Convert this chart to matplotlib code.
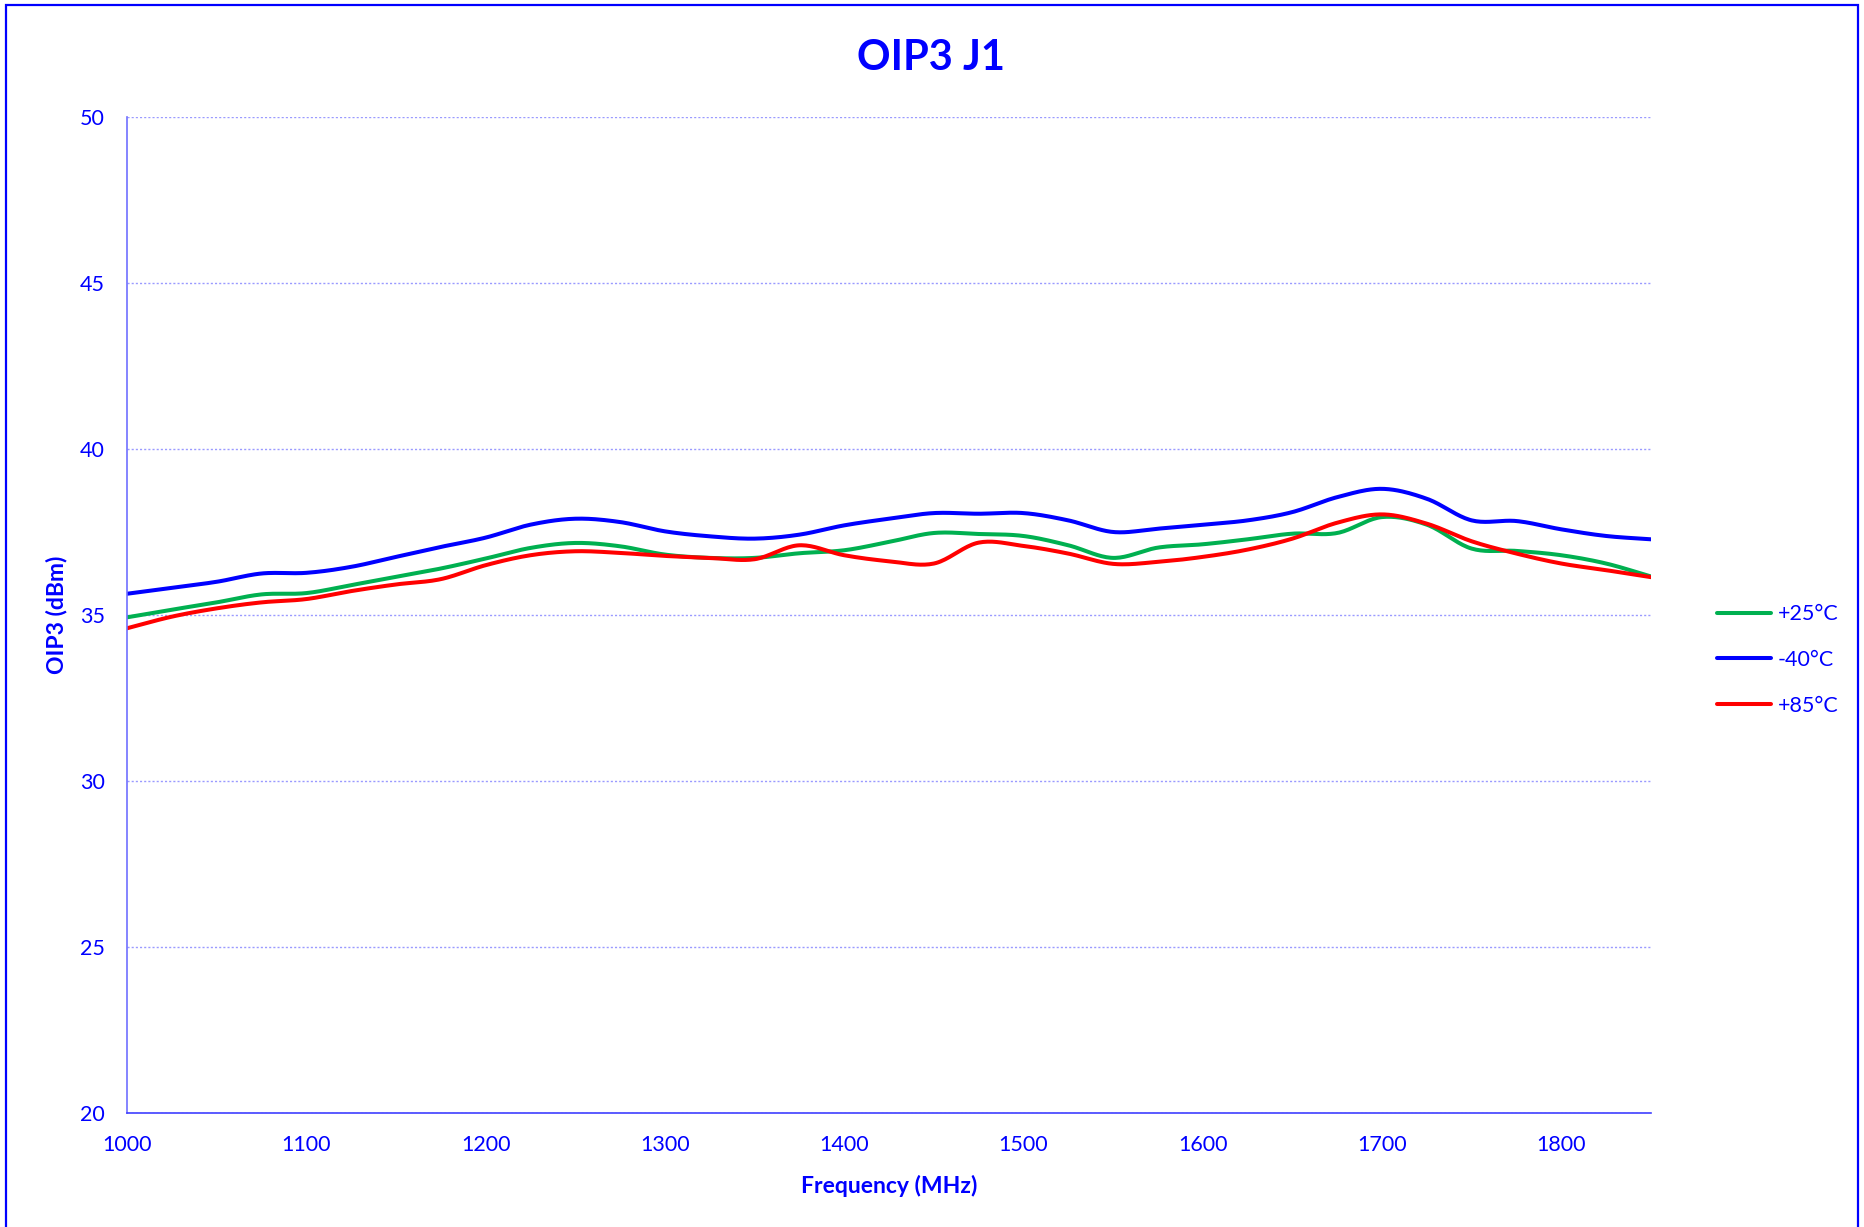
import numpy as np
import matplotlib
matplotlib.use('Agg')
from matplotlib import pyplot as plt
from matplotlib.patches import Rectangle

freq = [1000, 1025, 1050, 1075, 1100, 1125, 1150, 1175, 1200, 1225, 1250, 1275,
        1300, 1325, 1350, 1375, 1400, 1425, 1450, 1475, 1500, 1525, 1550, 1575,
        1600, 1625, 1650, 1675, 1700, 1725, 1750, 1775, 1800, 1825, 1850]

oip3_p25 = [34.93, 35.16, 35.38, 35.62, 35.66, 35.90, 36.15, 36.40, 36.70, 37.02, 37.17, 37.07,
            36.82, 36.72, 36.72, 36.86, 36.95, 37.20, 37.47, 37.44, 37.38, 37.10, 36.72, 37.03,
            37.13, 37.28, 37.45, 37.47, 37.95, 37.72, 37.00, 36.93, 36.80, 36.55, 36.16]

oip3_m40 = [35.64, 35.82, 36.00, 36.25, 36.27, 36.45, 36.75, 37.05, 37.33, 37.72, 37.90, 37.80,
            37.52, 37.37, 37.30, 37.42, 37.70, 37.90, 38.07, 38.05, 38.07, 37.85, 37.50, 37.60,
            37.72, 37.85, 38.10, 38.55, 38.80, 38.50, 37.85, 37.83, 37.58, 37.38, 37.28]

oip3_p85 = [34.60, 34.95, 35.20, 35.38, 35.48, 35.72, 35.92, 36.08, 36.50, 36.80, 36.92, 36.87,
            36.78, 36.72, 36.68, 37.10, 36.80, 36.62, 36.55, 37.18, 37.08, 36.85, 36.54, 36.60,
            36.75, 36.97, 37.30, 37.78, 38.03, 37.75, 37.22, 36.85, 36.55, 36.35, 36.14]

series = [('+25°C', oip3_p25, '#00B050'),
          ('-40°C', oip3_m40, '#0000FF'),
          ('+85°C', oip3_p85, '#FF0000')]

txt = '#0000FF'
plt.rcParams['font.family'] = ['Lato', 'DejaVu Sans']


# smooth line like the spreadsheet "smoothed line" option (Catmull-Rom)
def smooth(x, y, n=20):
    x = np.asarray(x, float)
    y = np.asarray(y, float)
    px = np.concatenate([[2 * x[0] - x[1]], x, [2 * x[-1] - x[-2]]])
    py = np.concatenate([[2 * y[0] - y[1]], y, [2 * y[-1] - y[-2]]])
    t = np.linspace(0, 1, n, endpoint=False)
    xs, ys = [], []
    for i in range(1, len(px) - 2):
        for p, out in ((px, xs), (py, ys)):
            p0, p1, p2, p3 = p[i - 1], p[i], p[i + 1], p[i + 2]
            out.append(0.5 * ((2 * p1) + (-p0 + p2) * t
                              + (2 * p0 - 5 * p1 + 4 * p2 - p3) * t ** 2
                              + (-p0 + 3 * p1 - 3 * p2 + p3) * t ** 3))
    xs = np.concatenate(xs + [[x[-1]]])
    ys = np.concatenate(ys + [[y[-1]]])
    return xs, ys


fig = plt.figure(figsize=(18.64, 12.27), dpi=100)
ax = fig.add_axes([127 / 1864, 1 - 1113 / 1227, (1651 - 127) / 1864, (1113 - 117) / 1227])

for name, vals, col in series:
    sx, sy = smooth(freq, vals)
    ax.plot(sx, sy, color=col, lw=2.9, label=name, solid_capstyle='round')

ax.set_xlim(1000, 1850)
ax.set_ylim(20, 50)
ax.set_xticks(range(1000, 1801, 100))
ax.set_yticks(range(20, 51, 5))
ax.tick_params(length=0, labelsize=15.5, labelcolor=txt)
ax.tick_params(axis='x', pad=16)
ax.tick_params(axis='y', pad=16)

ax.grid(axis='y', color='#9a9aff', ls=(0, (1.5, 1.5)), lw=1.0)
ax.set_axisbelow(True)
for s in ['top', 'right']:
    ax.spines[s].set_visible(False)
ax.spines['left'].set_color('#7070ff')
ax.spines['bottom'].set_color('#4040ff')
ax.spines['left'].set_linewidth(1.2)
ax.spines['bottom'].set_linewidth(1.2)

ax.set_xlabel('Frequency (MHz)', fontsize=16.5, fontweight='bold', color=txt, labelpad=14)
ax.set_ylabel('OIP3 (dBm)', fontsize=16.5, fontweight='bold', color=txt, labelpad=9)
fig.text(931 / 1864, 1 - 58 / 1227, 'OIP3 J1', ha='center', va='center',
         fontsize=30, fontweight='bold', color=txt)

leg = ax.legend(loc='center left', bbox_to_anchor=(1698 / 1864, 1 - 660 / 1227),
                bbox_transform=fig.transFigure, frameon=False, fontsize=15.5,
                handlelength=2.5, handletextpad=0.3, labelspacing=1.2)
for t in leg.get_texts():
    t.set_color(txt)

fig.patches.append(Rectangle((6 / 1864, -0.01), (1858 - 6) / 1864, 1.01 - 5 / 1227,
                             transform=fig.transFigure, fill=False,
                             edgecolor='#0000FF', lw=1.6))

plt.savefig('out.png', dpi=100)
